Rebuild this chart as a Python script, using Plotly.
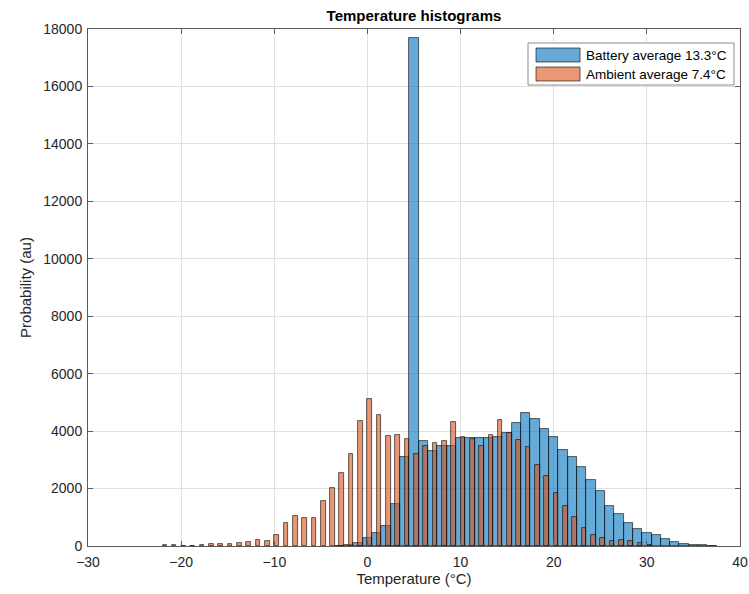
import plotly.graph_objects as go

# Histogram counts per 1 °C bin (battery) and per integer reading (ambient)
battery_temp = list(range(-3, 38))
battery_counts = [10, 45, 110, 270, 450, 710, 1450, 3110, 17700, 3670,
                  3310, 3490, 3490, 3770, 3770, 3760, 3775, 3780, 3940, 4270,
                  4640, 4410, 4065, 3790, 3340, 3090, 2740, 2300, 1900, 1380,
                  1115, 800, 600, 450, 370, 245, 140, 85, 45, 20, 10]

ambient_temp = list(range(-22, 31))
ambient_counts = [25, 25, 0, 0, 25, 60, 75, 80, 90, 140,
                  200, 175, 380, 810, 1055, 960, 990, 1570, 2030, 2550,
                  3190, 4350, 5110, 4560, 3830, 3860, 3740, 3200, 3480, 3600,
                  3670, 4300, 3810, 3730, 3480, 3865, 4400, 3940, 3680, 3460,
                  2820, 2440, 1850, 1400, 1020, 615, 395, 275, 185, 195,
                  185, 95, 35]

series_names = ["Battery average 13.3°C", "Ambient average 7.4°C"]
fill_colors = ["rgba(0,114,189,0.6)", "rgba(217,83,25,0.6)"]
edge_color = "rgba(0,0,0,0.75)"

x_ticks = [-30, -20, -10, 0, 10, 20, 30, 40]
y_ticks = list(range(0, 18001, 2000))

FONT = "Liberation Sans, Arial, Helvetica, sans-serif"
W, H = 749, 594
L, R, T, B = 88, 9, 29, 48

fig = go.Figure()

# Battery: full-width bins centred on each integer
fig.add_trace(go.Bar(
    x=battery_temp, y=battery_counts, width=1.0,
    marker=dict(color=fill_colors[0], line=dict(color=edge_color, width=0.8)),
    name=series_names[0], showlegend=False,
))

# Ambient: 0.5 °C bins, only the [n, n+0.5) bins are populated
fig.add_trace(go.Bar(
    x=[t + 0.25 for t in ambient_temp], y=ambient_counts, width=0.5,
    marker=dict(color=fill_colors[1], line=dict(color=edge_color, width=0.8)),
    name=series_names[1], showlegend=False,
))

axis_common = dict(
    showgrid=True, gridcolor="#e0e0e0", gridwidth=1,
    showline=True, linecolor="#5a5a5a", linewidth=1, mirror="ticks",
    ticks="inside", ticklen=5, tickcolor="#5a5a5a",
    tickfont=dict(family=FONT, size=14, color="#262626"),
    ticklabeloverflow="allow", automargin=False,
    zeroline=False,
)

fig.update_layout(
    width=W, height=H,
    margin=dict(l=L, r=R, t=T, b=B),
    paper_bgcolor="white", plot_bgcolor="white",
    barmode="overlay", bargap=0,
    font=dict(family=FONT, color="#262626"),
    title=dict(text="<b>Temperature histograms</b>", x=(L + (W - R)) / 2 / W,
               xanchor="center", y=1 - 16 / H, yanchor="middle",
               font=dict(family=FONT, size=15, color="#000000")),
    xaxis=dict(range=[-30, 40], tickvals=x_ticks, ticklabelstandoff=3,
               title=dict(text="Temperature (°C)", standoff=4,
                          font=dict(family=FONT, size=15, color="#262626")),
               **axis_common),
    yaxis=dict(range=[0, 18000], tickvals=y_ticks, tickformat="d",
               ticklabelstandoff=2,
               title=dict(text="Probability (au)", standoff=8,
                          font=dict(family=FONT, size=15, color="#262626")),
               **axis_common),
)

# Legend box drawn in paper coordinates from pixel positions
pw, ph = W - L - R, H - T - B


def px(x):
    return (x - L) / pw


def py(y):
    return (H - B - y) / ph


fig.add_shape(type="rect", xref="paper", yref="paper",
              x0=px(528), x1=px(734), y0=py(85), y1=py(43),
              fillcolor="white", line=dict(color="#8c8c8c", width=1), layer="above")

for i, (name, col) in enumerate(zip(series_names, fill_colors)):
    top = 48 + i * 19
    fig.add_shape(type="rect", xref="paper", yref="paper",
                  x0=px(536), x1=px(580), y0=py(top + 14), y1=py(top),
                  fillcolor=col, line=dict(color=edge_color, width=0.8), layer="above")
    fig.add_annotation(xref="paper", yref="paper", x=px(584), y=py(top + 7),
                       text=name, showarrow=False, xanchor="left", yanchor="middle",
                       font=dict(family=FONT, size=13.5, color="#000000"))

fig.write_html("out.html")
